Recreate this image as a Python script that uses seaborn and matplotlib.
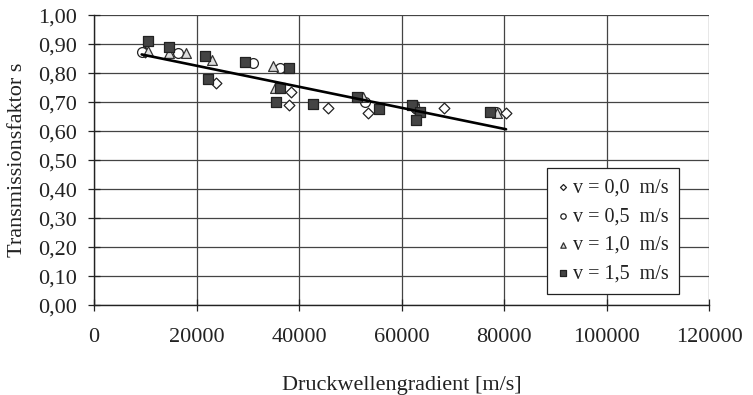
import matplotlib
matplotlib.use("Agg")
import matplotlib.pyplot as plt
import seaborn as sns
import pandas as pd
from matplotlib.ticker import FuncFormatter, MultipleLocator

# ---- data ----
x_v00 = [10000, 23900, 38400, 38000, 45600, 53500, 62500, 68200, 80300]
y_v00 = [0.875, 0.765, 0.737, 0.690, 0.679, 0.664, 0.680, 0.681, 0.662]

x_v05 = [9300, 16300, 31100, 36300, 52900, 62500, 78500]
y_v05 = [0.875, 0.869, 0.837, 0.817, 0.700, 0.690, 0.665]

x_v10 = [10600, 14600, 17900, 23000, 34900, 35400, 52500, 63000, 78600]
y_v10 = [0.878, 0.870, 0.869, 0.846, 0.825, 0.748, 0.720, 0.685, 0.664]

x_v15 = [10600, 14600, 21700, 22300, 29500, 38000, 36300, 35600, 42800,
         51300, 55700, 62000, 63600, 62800, 77300]
y_v15 = [0.910, 0.890, 0.860, 0.780, 0.840, 0.817, 0.748, 0.700, 0.695,
         0.720, 0.678, 0.690, 0.667, 0.639, 0.667]

fit_x = [9300, 80400]
fit_y = [0.865, 0.607]

labels = ["v = 0,0  m/s", "v = 0,5  m/s", "v = 1,0  m/s", "v = 1,5  m/s"]
x_ticks = [0, 20000, 40000, 60000, 80000, 100000, 120000]

sns.set_theme(style="white")
plt.rcParams['font.family'] = ['Liberation Serif', 'DejaVu Serif']

fig = plt.figure(figsize=(7.53, 3.95), dpi=100)
ax = fig.add_axes([94/753, 1-305.3/395, 615/753, 290/395])

series = [
    (x_v00, y_v00, labels[0], "D", "white", "#222222", 30),
    (x_v05, y_v05, labels[1], "o", "white", "#222222", 50),
    (x_v10, y_v10, labels[2], "^", "#dddddd", "#333333", 50),
    (x_v15, y_v15, labels[3], "s", "#444444", "#222222", 55),
]
for xs, ys, lab, m, fc, ec, s in series:
    df = pd.DataFrame({"x": xs, "y": ys})
    sns.scatterplot(data=df, x="x", y="y", marker=m, s=s, color=fc,
                    edgecolor=ec, linewidth=0.9, ax=ax, label=lab, zorder=3)

fit_df = pd.DataFrame({"x": fit_x, "y": fit_y})
sns.lineplot(data=fit_df, x="x", y="y", color="black", linewidth=1.9,
             ax=ax, zorder=4, legend=False)

ax.set_xlim(0, 120000)
ax.set_ylim(0, 1.0)
ax.set_xticks(x_ticks)
ax.yaxis.set_major_locator(MultipleLocator(0.1))
ax.xaxis.set_major_formatter(FuncFormatter(lambda v, p: f"{int(v)}"))
ax.yaxis.set_major_formatter(FuncFormatter(lambda v, p: f"{v:.2f}".replace(".", ",")))

ax.grid(True, color="#444444", linewidth=0.9)
ax.set_axisbelow(True)
for side in ["left", "bottom"]:
    ax.spines[side].set_color("#222222")
    ax.spines[side].set_linewidth(1.0)
for side in ["top", "right"]:
    ax.spines[side].set_visible(False)

ax.tick_params(axis="x", direction="inout", length=8, width=0.9, color="#222222",
               pad=12, labelsize=16, labelcolor="#222222", bottom=True)
ax.tick_params(axis="y", direction="inout", length=8, width=0.9, color="#222222",
               pad=8, labelsize=16, labelcolor="#222222", left=True)

ax.set_xlabel("Druckwellengradient [m/s]", fontsize=16, color="#222222", labelpad=21)
ax.set_ylabel("Transmissionsfaktor s", fontsize=16, color="#222222", labelpad=8)

leg = ax.legend(loc="upper left", bbox_to_anchor=(0.737, 0.473), frameon=True,
                fancybox=False, shadow=False, fontsize=14.5, markerscale=0.55,
                handlelength=0.6, handletextpad=0.2, labelspacing=0.48,
                borderpad=0.5, borderaxespad=0)
leg.get_frame().set_edgecolor("#222222")
leg.get_frame().set_linewidth(0.9)
leg.get_frame().set_facecolor("white")
leg.get_frame().set_alpha(1)
for t in leg.get_texts():
    t.set_color("#222222")

fig.savefig("out.png", dpi=100, facecolor="white")
